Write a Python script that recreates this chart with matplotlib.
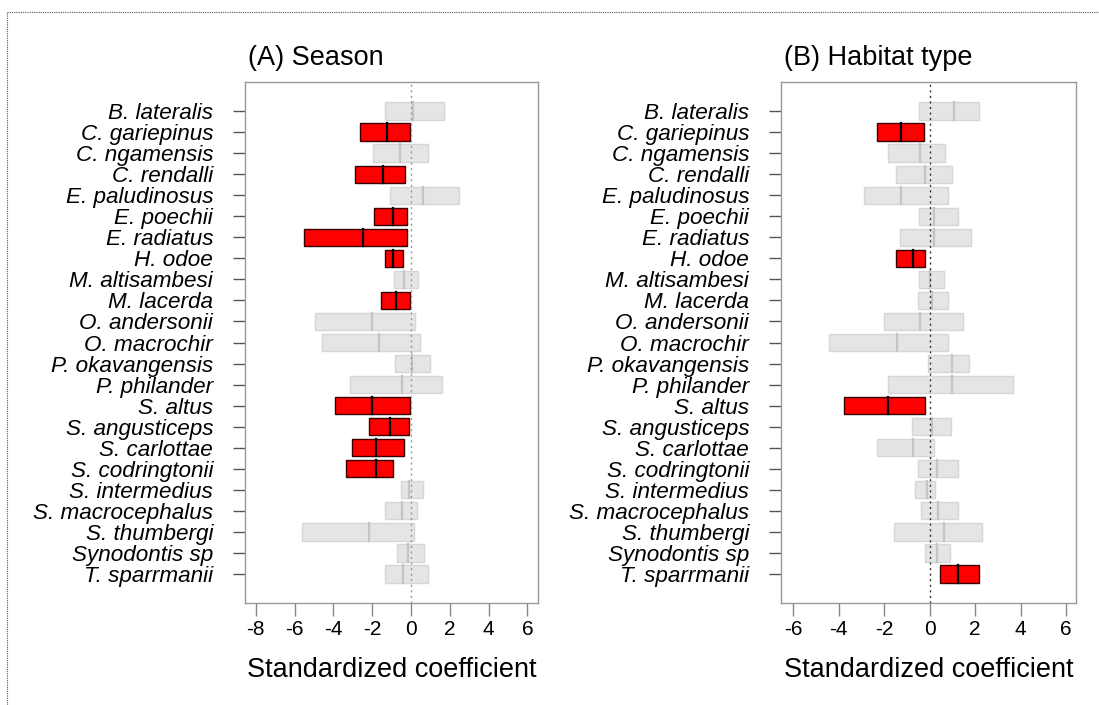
import numpy as np
import matplotlib
matplotlib.use("Agg")
from matplotlib import pyplot as plt
from matplotlib.lines import Line2D

plt.rcParams['font.family'] = ['Liberation Sans', 'DejaVu Sans']

species = ["B. lateralis", "C. gariepinus", "C. ngamensis", "C. rendalli",
           "E. paludinosus", "E. poechii", "E. radiatus", "H. odoe",
           "M. altisambesi", "M. lacerda", "O. andersonii", "O. macrochir",
           "P. okavangensis", "P. philander", "S. altus", "S. angusticeps",
           "S. carlottae", "S. codringtonii", "S. intermedius",
           "S. macrocephalus", "S. thumbergi", "Synodontis sp", "T. sparrmanii"]

# (A) Season: lower, median, upper
season_lo = [-1.32, -2.63, -1.98, -2.91, -1.08, -1.89, -5.53, -1.36, -0.88, -1.53, -4.95, -4.59,
             -0.82, -3.14, -3.94, -2.16, -3.04, -3.35, -0.54, -1.32, -5.62, -0.74, -1.32]
season_md = [0.08, -1.22, -0.57, -1.44, 0.60, -0.93, -2.46, -0.95, -0.36, -0.79, -2.03, -1.67,
             0.03, -0.48, -2.03, -1.08, -1.80, -1.80, -0.09, -0.48, -2.19, -0.15, -0.43]
season_hi = [1.69, -0.03, 0.88, -0.29, 2.49, -0.23, -0.23, -0.43, 0.38, -0.05, 0.22, 0.44,
             0.98, 1.61, -0.07, -0.12, -0.35, -0.93, 0.60, 0.31, 0.17, 0.67, 0.88]

# (B) Habitat type
habitat_lo = [-0.46, -2.32, -1.83, -1.46, -2.87, -0.46, -1.31, -1.46, -0.46, -0.52, -2.00, -4.44,
              -0.06, -1.83, -3.75, -0.75, -2.31, -0.52, -0.64, -0.37, -1.56, -0.19, 0.44]
habitat_md = [1.06, -1.25, -0.43, -0.18, -1.25, 0.19, 0.19, -0.74, 0.04, 0.13, -0.43, -1.43,
              0.98, 0.98, -1.81, 0.12, -0.74, 0.31, -0.13, 0.38, 0.63, 0.31, 1.26]
habitat_hi = [2.19, -0.25, 0.69, 1.01, 0.81, 1.26, 1.81, -0.18, 0.62, 0.81, 1.46, 0.81,
              1.75, 3.69, -0.18, 0.95, 0.18, 1.26, 0.25, 1.26, 2.31, 0.88, 2.19]

fig = plt.figure(figsize=(10.99, 7.05), dpi=100)

# dotted frame around the figure (top and left only visible)
fig.add_artist(Line2D([7 / 1099, 1], [1 - 12 / 705] * 2, color="#555555", lw=0.8, ls=(0, (1, 1))))
fig.add_artist(Line2D([7 / 1099] * 2, [0, 1 - 12 / 705], color="#555555", lw=0.8, ls=(0, (1, 1))))


def panel(ax, lo, md, hi, title, xlim, xticks, zcol):
    lo, md, hi = np.array(lo), np.array(md), np.array(hi)
    y = np.arange(len(species))
    sig = (hi < 0) | (lo > 0)
    h = 0.82
    for i in y:
        if sig[i]:
            fc, ec, mc = "#ff0000", "#3a0000", "black"
        else:
            fc, ec, mc = "#e5e5e5", "#d6d6d6", "#c4c4c4"
        ax.barh(i, hi[i] - lo[i], left=lo[i], height=h, color=fc, edgecolor=ec, lw=1.0, zorder=2)
        ax.plot([md[i], md[i]], [i - h / 2, i + h / 2], color=mc, lw=1.6, zorder=3)
    ax.axvline(0, color=zcol, ls=(0, (1.5, 2.5)), lw=1.0, zorder=4)
    ax.set_xlim(*xlim)
    ax.set_ylim(len(species) - 1 + 1.38, -1.38)
    ax.set_yticks(y)
    ax.set_yticklabels(species, fontstyle="italic", fontsize=16.2)
    ax.set_xticks(xticks)
    ax.set_xticklabels([str(t) for t in xticks], fontsize=15)
    ax.tick_params(axis="x", length=9.5, color="#888888", width=1.0, pad=3)
    ax.tick_params(axis="y", length=9, color="#555555", width=1.0, pad=14)
    for s in ax.spines.values():
        s.set_color("#999999")
        s.set_linewidth(1.0)
    ax.set_xlabel("Standardized coefficient", fontsize=19.5, labelpad=13)
    ax.set_title(title, fontsize=19.5, loc="left", pad=12, x=0.01)


ax1 = fig.add_axes([245 / 1099, 1 - 603 / 705, 293 / 1099, 521 / 705])
panel(ax1, season_lo, season_md, season_hi, "(A) Season", (-8.56, 6.55),
      [-8, -6, -4, -2, 0, 2, 4, 6], "#999999")

ax2 = fig.add_axes([781 / 1099, 1 - 603 / 705, 295 / 1099, 521 / 705])
panel(ax2, habitat_lo, habitat_md, habitat_hi, "(B) Habitat type", (-6.53, 6.44),
      [-6, -4, -2, 0, 2, 4, 6], "#333333")

fig.savefig("out.png", dpi=100)
